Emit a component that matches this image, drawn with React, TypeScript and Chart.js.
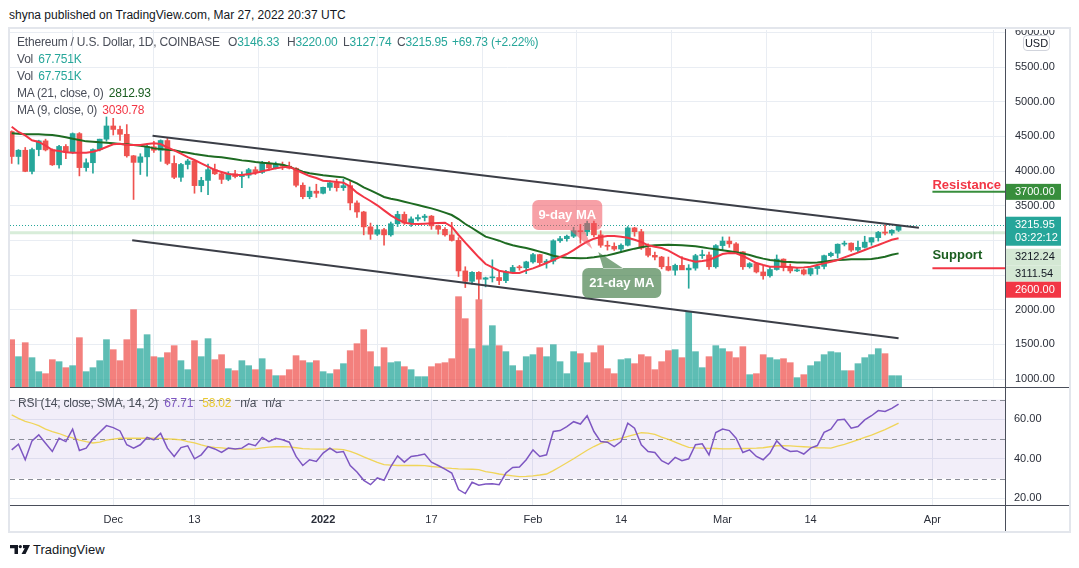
import React, { useEffect, useRef } from 'react';
import { Chart, registerables } from 'chart.js';

Chart.register(...registerables);

const FONT = '"Liberation Sans", Arial, Helvetica, sans-serif';

// ---- time axis (day index 0 = 16 Nov 2021) ----
const tickIdx = [15, 27, 46, 62, 77, 90, 105, 118, 136];
const tickLabels = ['Dec', '13', '2022', '17', 'Feb', '14', 'Mar', '14', 'Apr'];
const boldTickLabels = ['2022'];

// ---- OHLC (ETH/USD daily, Coinbase) ----
const open = [
  4570, 4210, 4300, 3995, 4310, 4435, 4305, 4090, 4355, 4275,
  4540, 4050, 4120, 4310, 4460, 4650, 4600, 4530, 4220, 4125,
  4205, 4350, 4300, 4440, 4110, 3910, 4095, 4145, 3790, 3865,
  4020, 3960, 3880, 3960, 3920, 3940, 4020, 3980, 4110, 4045,
  4095, 4070, 4040, 3795, 3630, 3710, 3680, 3765, 3830, 3760,
  3790, 3540, 3410, 3195, 3090, 3155, 3080, 3240, 3375, 3250,
  3310, 3330, 3350, 3210, 3160, 3080, 3000, 2560, 2410, 2540,
  2440, 2460, 2465, 2420, 2550, 2615, 2605, 2690, 2795, 2680,
  2700, 2995, 3025, 3060, 3140, 3125, 3245, 3080, 2930, 2915,
  2875, 2930, 3180, 3125, 2890, 2785, 2760, 2625, 2570, 2640,
  2575, 2600, 2780, 2790, 2620, 2925, 2990, 2950, 2835, 2620,
  2665, 2545, 2490, 2580, 2730, 2610, 2560, 2575, 2515, 2595,
  2625, 2780, 2815, 2945, 2960, 2860, 2900, 2975, 3040, 3120,
  3105, 3146.33,
];
const high = [
  4580, 4310, 4340, 4330, 4445, 4460, 4320, 4370, 4380, 4550,
  4555, 4175, 4320, 4460, 4780, 4760, 4650, 4670, 4225, 4250,
  4375, 4430, 4450, 4485, 4220, 4110, 4170, 4150, 3910, 4100,
  4100, 3990, 3990, 4010, 3990, 4040, 4060, 4140, 4140, 4130,
  4130, 4130, 4050, 3830, 3770, 3810, 3770, 3860, 3880, 3880,
  3850, 3570, 3420, 3250, 3220, 3175, 3265, 3420, 3410, 3340,
  3370, 3375, 3360, 3220, 3185, 3260, 3040, 2620, 2550, 2550,
  2470, 2720, 2550, 2570, 2640, 2640, 2700, 2815, 2800, 2725,
  3010, 3060, 3075, 3190, 3230, 3280, 3280, 3140, 2990, 2965,
  2950, 3200, 3190, 3160, 2950, 2830, 2770, 2760, 2660, 2765,
  2650, 2800, 2860, 2830, 2940, 3050, 3050, 2970, 2840, 2680,
  2675, 2630, 2620, 2790, 2735, 2660, 2600, 2590, 2600, 2655,
  2790, 2830, 2950, 2990, 2965, 2990, 3060, 3040, 3130, 3220,
  3155, 3220,
];
const low = [
  4110, 4100, 3990, 3960, 4220, 4290, 4080, 4040, 4180, 4250,
  3930, 4000, 3970, 4290, 4430, 4520, 4440, 4200, 3590, 3950,
  3925, 4270, 4140, 4090, 3890, 3850, 4030, 3680, 3700, 3660,
  3950, 3820, 3860, 3900, 3760, 3900, 3950, 3965, 4010, 4030,
  4020, 4030, 3770, 3600, 3600, 3620, 3670, 3720, 3710, 3720,
  3440, 3330, 3080, 3015, 3070, 2930, 3060, 3200, 3230, 3200,
  3280, 3280, 3160, 3090, 3060, 2990, 2480, 2320, 2370, 2150,
  2330, 2400, 2360, 2390, 2530, 2570, 2520, 2670, 2640, 2600,
  2660, 2970, 2990, 3040, 2960, 3070, 3050, 2900, 2860, 2855,
  2830, 2920, 3060, 2870, 2760, 2720, 2590, 2560, 2500, 2580,
  2310, 2570, 2740, 2580, 2600, 2860, 2900, 2810, 2580, 2600,
  2530, 2440, 2470, 2570, 2560, 2530, 2550, 2500, 2490, 2510,
  2590, 2760, 2745, 2920, 2840, 2825, 2890, 2930, 2990, 3080,
  3075, 3127.74,
];
const close = [
  4210, 4300, 3995, 4310, 4435, 4305, 4090, 4355, 4275, 4540,
  4050, 4120, 4310, 4460, 4650, 4600, 4530, 4220, 4125, 4205,
  4350, 4300, 4440, 4110, 3910, 4095, 4145, 3790, 3865, 4020,
  3960, 3880, 3960, 3920, 3940, 4020, 3980, 4110, 4045, 4095,
  4070, 4040, 3795, 3630, 3710, 3680, 3765, 3830, 3760, 3790,
  3540, 3410, 3195, 3090, 3155, 3080, 3240, 3375, 3250, 3310,
  3330, 3350, 3210, 3160, 3080, 3000, 2560, 2410, 2540, 2440,
  2460, 2465, 2420, 2550, 2610, 2605, 2690, 2795, 2680, 2700,
  2995, 3025, 3060, 3140, 3125, 3245, 3080, 2930, 2915, 2875,
  2930, 3180, 3125, 2890, 2785, 2760, 2620, 2570, 2640, 2575,
  2600, 2780, 2790, 2620, 2925, 2990, 2950, 2835, 2620, 2665,
  2545, 2490, 2580, 2730, 2610, 2560, 2575, 2515, 2595, 2625,
  2780, 2815, 2945, 2960, 2860, 2900, 2975, 3040, 3115, 3105,
  3146.33, 3215.95,
];
// volume, thousands of ETH
const volume = [
  284, 182, 266, 176, 92, 80, 164, 152, 116, 128,
  296, 92, 116, 158, 284, 224, 158, 284, 464, 230,
  314, 182, 176, 206, 248, 158, 104, 278, 182, 290,
  164, 194, 110, 98, 158, 128, 104, 170, 104, 68,
  68, 104, 188, 158, 146, 158, 92, 80, 104, 140,
  218, 260, 344, 212, 122, 236, 146, 152, 122, 104,
  62, 62, 122, 140, 146, 170, 542, 410, 230, 524,
  248, 368, 248, 212, 128, 98, 182, 194, 236, 182,
  254, 152, 80, 212, 200, 146, 206, 248, 110, 80,
  164, 170, 140, 194, 182, 104, 152, 218, 224, 176,
  448, 212, 116, 182, 248, 230, 212, 176, 242, 74,
  80, 194, 176, 164, 170, 146, 56, 74, 128, 152,
  194, 212, 206, 98, 98, 140, 176, 194, 230, 200,
  68, 67.751,
];
const ma9 = [
  4640, 4563, 4515, 4443, 4419, 4366, 4304, 4289, 4270, 4265,
  4265, 4265, 4279, 4308, 4347, 4385, 4395, 4376, 4376, 4376,
  4390, 4400, 4390, 4340, 4299, 4250, 4202, 4159, 4111, 4063,
  4015, 3986, 3957, 3948, 3943, 3957, 3972, 3996, 4020, 4039,
  4053, 4063, 4015, 3972, 3928, 3900, 3861, 3852, 3842, 3832,
  3775, 3688, 3626, 3568, 3506, 3433, 3361, 3304, 3256, 3241,
  3236, 3241, 3246, 3251, 3256, 3198, 3078, 2967, 2861, 2756,
  2659, 2611, 2563, 2544, 2530, 2530, 2568, 2597, 2635, 2674,
  2717, 2761, 2804, 2861, 2924, 2981, 3025, 3049, 3063, 3063,
  3054, 3039, 3010, 2977, 2929, 2909, 2890, 2852, 2799, 2746,
  2717, 2693, 2703, 2717, 2761, 2804, 2818, 2813, 2775, 2727,
  2674, 2645, 2621, 2621, 2621, 2616, 2607, 2611, 2621, 2645,
  2669, 2693, 2717, 2756, 2789, 2823, 2861, 2900, 2933, 2972,
  3010, 3030.78,
];
const ma21 = [
  4544, 4539, 4529, 4529, 4529, 4525, 4520, 4505, 4486, 4467,
  4448, 4428, 4424, 4414, 4409, 4400, 4390, 4385, 4376, 4366,
  4352, 4327, 4318, 4308, 4299, 4279, 4265, 4246, 4231, 4217,
  4207, 4198, 4183, 4169, 4154, 4145, 4130, 4121, 4111, 4102,
  4092, 4063, 4025, 3991, 3967, 3953, 3938, 3928, 3919, 3909,
  3866, 3823, 3765, 3722, 3674, 3626, 3601, 3582, 3558, 3534,
  3510, 3486, 3462, 3433, 3400, 3366, 3308, 3236, 3179, 3116,
  3054, 3025, 2996, 2958, 2929, 2909, 2890, 2866, 2838, 2812,
  2780, 2762, 2751, 2746, 2741, 2746, 2756, 2770, 2784, 2808,
  2832, 2857, 2881, 2900, 2919, 2929, 2933, 2938, 2933, 2929,
  2924, 2914, 2900, 2885, 2871, 2857, 2842, 2828, 2813, 2789,
  2761, 2737, 2717, 2708, 2693, 2688, 2683, 2683, 2679, 2683,
  2693, 2708, 2717, 2722, 2727, 2727, 2727, 2732, 2746, 2765,
  2794, 2812.93,
];
const rsi = [
  44.5, 47.4, 39.5, 49.1, 52.1, 47.9, 43.7, 50.4, 48.7, 55.0,
  44.2, 45.4, 50.1, 53.4, 56.8, 55.8, 54.1, 47.1, 45.4, 47.1,
  50.8, 49.6, 52.9, 45.4, 41.2, 45.7, 46.6, 40.0, 42.0, 46.2,
  45.0, 43.2, 45.4, 44.9, 45.4, 47.6, 46.6, 50.8, 48.7, 50.4,
  49.6, 48.4, 41.2, 36.6, 39.5, 38.7, 42.9, 45.4, 43.2, 43.7,
  36.6, 33.3, 29.1, 26.9, 30.3, 29.1, 36.1, 41.5, 38.3, 41.2,
  41.7, 42.4, 38.3, 36.6, 34.8, 32.8, 24.4, 22.4, 28.1, 26.6,
  27.2, 27.4, 26.9, 32.8, 35.6, 35.8, 39.5, 44.5, 41.2, 42.0,
  53.8, 54.3, 56.3, 58.8, 57.6, 61.8, 53.8, 48.7, 48.4, 46.2,
  48.7, 58.0, 55.5, 47.1, 43.7, 43.2, 39.0, 37.3, 40.7, 39.0,
  40.0, 47.1, 47.6, 42.0, 53.3, 55.1, 54.3, 50.4, 43.2, 44.5,
  41.2, 39.5, 42.9, 49.1, 45.4, 43.7, 44.0, 42.4, 45.4, 46.7,
  53.4, 55.0, 59.7, 60.0, 55.5, 56.3, 59.7, 61.8, 64.4, 64.0,
  65.5, 67.71,
];
const rsiSma = [
  62.2, 60.5, 59.0, 58.0, 56.8, 55.0, 53.8, 52.8, 51.5, 50.6,
  49.5, 48.7, 48.0, 48.4, 49.4, 50.0, 50.4, 50.4, 50.4, 50.4,
  50.4, 50.4, 50.3, 50.1, 49.9, 49.6, 48.7, 48.1, 47.0, 46.2,
  45.8, 45.5, 45.2, 45.0, 44.9, 44.9, 45.0, 45.5, 45.9, 46.1,
  46.2, 46.0, 45.6, 45.2, 45.0, 44.9, 44.9, 44.9, 44.9, 44.6,
  43.7, 42.5, 41.0, 39.6, 38.2, 37.0, 36.8, 36.6, 36.6, 36.6,
  36.6, 36.5, 36.1, 35.8, 35.4, 35.1, 34.9, 34.8, 34.7, 34.5,
  33.5, 33.0, 32.3, 31.8, 31.4, 31.0, 31.1, 31.4, 31.8, 32.3,
  34.0, 36.0, 38.0, 40.0, 42.2, 44.3, 46.2, 47.8, 48.8, 49.6,
  50.4, 51.3, 52.3, 53.2, 53.0, 52.4, 51.0, 49.8, 48.4, 47.0,
  45.8, 45.5, 45.4, 45.3, 45.2, 45.0, 45.0, 45.1, 45.2, 45.3,
  45.4, 45.6, 46.1, 46.6, 46.7, 46.5, 46.3, 46.1, 45.9, 45.6,
  45.5, 45.4, 46.4, 47.3, 48.4, 49.6, 50.8, 52.0, 53.4, 54.8,
  56.4, 58.02,
];

// drawn channel (day index, price)
const upperTrendX = [20.8, 134.0];
const upperTrendY = [4510, 3183];
const lowerTrendX = [17.8, 131.0];
const lowerTrendY = [3001, 1588];

const resistanceLevel = 3700;
const supportLevel = 2600;
const levelStartIdx = 136;
const lastPrice = 3215.95;
const countdown = '03:22:12';
const refPrice1 = 3212.24;
const refPrice2 = 3111.54;
const calloutIdx = 86.2;
const calloutPrice = 2848;

const priceTicks = [1000, 1500, 2000, 2500, 3000, 3500, 4000, 4500, 5000, 5500, 6000];
const rsiTicks = [20, 40, 60];
const rsiLevels = [70, 50, 30];

// view ranges
const X_MIN = -0.25;
const X_MAX = 146.72;
const P_MIN = 886;
const P_MAX = 6034;
const V_MAX = 2142;
const R_MIN = 16.6;
const R_MAX = 75.85;

const GRID = '#e9edf3';
const UP = '#26a69a';
const DOWN = '#ef5350';

function roundRectPath(ctx: CanvasRenderingContext2D, x: number, y: number, w: number, h: number, r: number) {
  ctx.moveTo(x + r, y);
  ctx.lineTo(x + w - r, y);
  ctx.arcTo(x + w, y, x + w, y + r, r);
  ctx.lineTo(x + w, y + h - r);
  ctx.arcTo(x + w, y + h, x + w - r, y + h, r);
  ctx.lineTo(x + r, y + h);
  ctx.arcTo(x, y + h, x, y + h - r, r);
  ctx.lineTo(x, y + r);
  ctx.arcTo(x, y, x + r, y, r);
  ctx.closePath();
}

const mainOverlay = {
  id: 'mainOverlay',
  beforeDatasetsDraw(chart: any) {
    const { ctx, chartArea: a, scales } = chart;
    const y = scales.y;
    ctx.save();
    const y2 = y.getPixelForValue(refPrice2);
    ctx.strokeStyle = 'rgba(76,175,80,0.22)';
    ctx.lineWidth = 3;
    ctx.beginPath();
    ctx.moveTo(a.left, y2);
    ctx.lineTo(a.right, y2);
    ctx.stroke();
    const y1 = y.getPixelForValue(lastPrice);
    ctx.strokeStyle = UP;
    ctx.lineWidth = 1;
    ctx.setLineDash([1, 2]);
    ctx.beginPath();
    ctx.moveTo(a.left, Math.round(y1) + 0.5);
    ctx.lineTo(a.right, Math.round(y1) + 0.5);
    ctx.stroke();
    ctx.restore();
  },
  afterDraw(chart: any) {
    const { ctx, chartArea: a, scales } = chart;
    const x = scales.x;
    const y = scales.y;
    ctx.save();
    // resistance / support
    const lx = x.getPixelForValue(levelStartIdx);
    const yr = y.getPixelForValue(resistanceLevel);
    const ys = y.getPixelForValue(supportLevel);
    ctx.lineWidth = 2;
    ctx.strokeStyle = '#388e3c';
    ctx.beginPath();
    ctx.moveTo(lx, yr);
    ctx.lineTo(a.right, yr);
    ctx.stroke();
    ctx.strokeStyle = '#f23645';
    ctx.beginPath();
    ctx.moveTo(lx, ys);
    ctx.lineTo(a.right, ys);
    ctx.stroke();
    ctx.font = `bold 13px ${FONT}`;
    ctx.textAlign = 'left';
    ctx.textBaseline = 'alphabetic';
    ctx.fillStyle = '#f23645';
    ctx.fillText('Resistance', lx, yr - 3);
    ctx.fillStyle = '#1b5e20';
    ctx.fillText('Support', lx, ys - 9);

    // callouts
    const ax = x.getPixelForValue(calloutIdx);
    const ay = y.getPixelForValue(calloutPrice);
    ctx.fillStyle = 'rgba(240,82,92,0.55)';
    ctx.beginPath();
    roundRectPath(ctx, ax - 63, ay - 51, 70, 30, 6);
    ctx.moveTo(ax - 26, ay - 21.5);
    ctx.lineTo(ax - 11, ay - 21.5);
    ctx.lineTo(ax - 3, ay - 2);
    ctx.closePath();
    ctx.fill('nonzero');
    ctx.fillStyle = 'rgba(62,122,66,0.65)';
    ctx.beginPath();
    roundRectPath(ctx, ax - 13, ay + 17, 79, 30, 6);
    ctx.moveTo(ax + 8, ay + 17.5);
    ctx.lineTo(ax + 28, ay + 17.5);
    ctx.lineTo(ax + 3, ay + 1);
    ctx.closePath();
    ctx.fill('nonzero');
    ctx.fillStyle = '#ffffff';
    ctx.font = `bold 13px ${FONT}`;
    ctx.textAlign = 'center';
    ctx.textBaseline = 'middle';
    ctx.fillText('9-day MA', ax - 28, ay - 36);
    ctx.fillText('21-day MA', ax + 26.5, ay + 32);

    // price scale labels
    const bx = a.right;
    const bw = 56;
    ctx.textAlign = 'left';
    ctx.textBaseline = 'middle';
    ctx.font = `11px ${FONT}`;
    const box = (top: number, h: number, bg: string) => {
      ctx.fillStyle = bg;
      ctx.fillRect(bx, top, bw, h);
    };
    const txt = (s: string, cy: number, col: string) => {
      ctx.fillStyle = col;
      ctx.fillText(s, bx + 10, cy);
    };
    box(yr - 8, 16, '#388e3c');
    txt(resistanceLevel.toFixed(2), yr, '#ffffff');
    const yl = y.getPixelForValue(lastPrice);
    box(yl - 8.7, 29, UP);
    txt(lastPrice.toFixed(2), yl, '#ffffff');
    txt(countdown, yl + 13, '#ffffff');
    let t = yl + 23.3;
    box(t, 17, '#d4e8d4');
    txt(refPrice1.toFixed(2), t + 8.5, '#131722');
    t += 17;
    box(t, 16, '#d4e8d4');
    txt(refPrice2.toFixed(2), t + 8, '#131722');
    t += 16;
    box(t, 16, '#f23645');
    txt(supportLevel.toFixed(2), t + 8, '#ffffff');
    ctx.restore();
  },
};

const rsiOverlay = {
  id: 'rsiOverlay',
  beforeDatasetsDraw(chart: any) {
    const { ctx, chartArea: a, scales } = chart;
    const y = scales.y;
    ctx.save();
    const top = y.getPixelForValue(rsiLevels[0]);
    const bot = y.getPixelForValue(rsiLevels[2]);
    ctx.fillStyle = 'rgba(126,87,194,0.1)';
    ctx.fillRect(a.left, top, a.right - a.left, bot - top);
    ctx.strokeStyle = '#8a8d97';
    ctx.lineWidth = 1;
    ctx.setLineDash([5, 4]);
    rsiLevels.forEach((v) => {
      const py = Math.round(y.getPixelForValue(v)) + 0.5;
      ctx.beginPath();
      ctx.moveTo(a.left, py);
      ctx.lineTo(a.right, py);
      ctx.stroke();
    });
    ctx.restore();
  },
};

function xScale(showLabels: boolean) {
  return {
    type: 'linear' as const,
    min: X_MIN,
    max: X_MAX,
    offset: false,
    afterBuildTicks: (s: any) => {
      s.ticks = tickIdx.map((v) => ({ value: v }));
    },
    afterFit: (s: any) => {
      s.height = showLabels ? 25 : 0;
      s.paddingLeft = 0;
      s.paddingRight = 0;
      s.paddingTop = 0;
      s.paddingBottom = 0;
    },
    ticks: {
      display: showLabels,
      autoSkip: false,
      maxRotation: 0,
      padding: 8,
      color: '#2a2e39',
      callback: (v: any) => tickLabels[tickIdx.indexOf(Number(v))],
      font: (c: any) => ({
        family: FONT,
        size: 11,
        weight: c.tick && boldTickLabels.includes(tickLabels[tickIdx.indexOf(c.tick.value)]) ? 'bold' : 'normal',
      }),
    },
    grid: { color: GRID, drawTicks: false },
    border: { display: false },
  };
}

function yFit(s: any) {
  s.width = 65;
  s.paddingTop = 0;
  s.paddingBottom = 0;
  s.paddingLeft = 0;
  s.paddingRight = 0;
}

function buildMain(canvas: HTMLCanvasElement) {
  const idx = close.map((_, i) => i);
  const isUp = idx.map((i) => close[i] >= open[i]);
  const candleColors = isUp.map((u) => (u ? UP : DOWN));
  const volColors = isUp.map((u) => (u ? 'rgba(38,166,154,0.74)' : 'rgba(239,83,80,0.74)'));
  return new Chart(canvas, {
    type: 'bar',
    data: {
      datasets: [
        {
          type: 'line',
          data: ma9.map((v, i) => ({ x: i, y: v })),
          borderColor: '#f23645',
          borderWidth: 2,
          pointRadius: 0,
          tension: 0,
          order: 0,
        } as any,
        {
          type: 'line',
          data: ma21.map((v, i) => ({ x: i, y: v })),
          borderColor: '#1e6b22',
          borderWidth: 2,
          pointRadius: 0,
          tension: 0,
          order: 0,
        } as any,
        {
          type: 'line',
          data: upperTrendX.map((v, i) => ({ x: v, y: upperTrendY[i] })),
          borderColor: '#3b3e47',
          borderWidth: 2,
          pointRadius: 0,
          order: 0,
        } as any,
        {
          type: 'line',
          data: lowerTrendX.map((v, i) => ({ x: v, y: lowerTrendY[i] })),
          borderColor: '#3b3e47',
          borderWidth: 2,
          pointRadius: 0,
          order: 0,
        } as any,
        {
          type: 'bar',
          data: idx.map((i) => ({ x: i, y: [open[i], close[i]] })),
          backgroundColor: candleColors,
          barThickness: 5,
          grouped: false,
          minBarLength: 1,
          order: 1,
        } as any,
        {
          type: 'bar',
          data: idx.map((i) => ({ x: i, y: [low[i], high[i]] })),
          backgroundColor: candleColors,
          barThickness: 1,
          grouped: false,
          order: 2,
        } as any,
        {
          type: 'bar',
          yAxisID: 'yv',
          data: idx.map((i) => ({ x: i, y: volume[i] })),
          backgroundColor: volColors,
          barThickness: 6,
          grouped: false,
          order: 3,
        } as any,
      ],
    },
    options: {
      responsive: false,
      animation: false,
      events: [],
      layout: { padding: 0, autoPadding: false } as any,
      plugins: { legend: { display: false }, tooltip: { enabled: false } },
      scales: {
        x: xScale(false) as any,
        y: {
          type: 'linear',
          position: 'right',
          min: P_MIN,
          max: P_MAX,
          afterBuildTicks: (s: any) => {
            s.ticks = priceTicks.map((v) => ({ value: v }));
          },
          afterFit: yFit,
          ticks: {
            padding: 10,
            color: '#2a2e39',
            font: { family: FONT, size: 11 },
            callback: (v: any) => Number(v).toFixed(2),
          },
          grid: { color: GRID, drawTicks: false },
          border: { display: false },
        },
        yv: { type: 'linear', display: false, min: 0, max: V_MAX },
      },
    },
    plugins: [mainOverlay],
  });
}

function buildRsi(canvas: HTMLCanvasElement) {
  return new Chart(canvas, {
    type: 'line',
    data: {
      datasets: [
        {
          data: rsi.map((v, i) => ({ x: i, y: v })),
          borderColor: '#7e57c2',
          borderWidth: 1.5,
          pointRadius: 0,
          tension: 0,
        },
        {
          data: rsiSma.map((v, i) => ({ x: i, y: v })),
          borderColor: 'rgba(240,208,60,0.85)',
          borderWidth: 1.3,
          pointRadius: 0,
          tension: 0,
        },
      ],
    },
    options: {
      responsive: false,
      animation: false,
      events: [],
      layout: { padding: 0, autoPadding: false } as any,
      plugins: { legend: { display: false }, tooltip: { enabled: false } },
      scales: {
        x: xScale(true) as any,
        y: {
          type: 'linear',
          position: 'right',
          min: R_MIN,
          max: R_MAX,
          afterBuildTicks: (s: any) => {
            s.ticks = rsiTicks.map((v) => ({ value: v }));
          },
          afterFit: yFit,
          ticks: {
            padding: 9,
            color: '#2a2e39',
            font: { family: FONT, size: 11 },
            callback: (v: any) => Number(v).toFixed(2),
          },
          grid: { color: GRID, drawTicks: false },
          border: { display: false },
        },
      },
    },
    plugins: [rsiOverlay],
  });
}

const baseText: React.CSSProperties = {
  position: 'absolute',
  whiteSpace: 'nowrap',
  fontFamily: FONT,
  fontSize: 12,
  lineHeight: '16px',
  letterSpacing: '-0.2px',
  color: '#4a4e59',
};

function T(props: { x: number; cy: number; color?: string; size?: number; spacing?: string; children: React.ReactNode }) {
  const size = props.size || 12;
  return (
    <div
      style={{
        ...baseText,
        left: props.x,
        top: props.cy - 8,
        color: props.color || baseText.color,
        fontSize: size,
        letterSpacing: props.spacing || baseText.letterSpacing,
      }}
    >
      {props.children}
    </div>
  );
}

export default function App() {
  const mainRef = useRef<HTMLCanvasElement>(null);
  const rsiRef = useRef<HTMLCanvasElement>(null);

  useEffect(() => {
    const c1 = buildMain(mainRef.current as HTMLCanvasElement);
    const c2 = buildRsi(rsiRef.current as HTMLCanvasElement);
    return () => {
      c1.destroy();
      c2.destroy();
    };
  }, []);

  const teal = '#26a69a';
  return (
    <div
      style={{
        position: 'fixed',
        left: 0,
        top: 0,
        width: 1079,
        height: 568,
        background: '#ffffff',
        overflow: 'hidden',
        fontFamily: FONT,
      }}
    >
      <T x={9} cy={15} color="#131722" spacing="0px">shyna published on TradingView.com, Mar 27, 2022 20:37 UTC</T>

      <div
        style={{
          position: 'absolute',
          left: 8,
          top: 27,
          width: 1063,
          height: 506,
          border: '2px solid #e3e6ec',
          boxSizing: 'border-box',
        }}
      />

      <canvas ref={mainRef} width={1060} height={357} style={{ position: 'absolute', left: 10, top: 30 }} />
      <canvas ref={rsiRef} width={1060} height={142} style={{ position: 'absolute', left: 10, top: 388 }} />

      {/* pane separators and price-scale border */}
      <div style={{ position: 'absolute', left: 10, top: 387, width: 1059, height: 1, background: '#4a4e5a' }} />
      <div style={{ position: 'absolute', left: 10, top: 505, width: 1059, height: 1, background: '#4a4e5a' }} />
      <div style={{ position: 'absolute', left: 1005, top: 29, width: 1, height: 502, background: '#4a4e5a' }} />

      {/* USD badge */}
      <div
        style={{
          position: 'absolute',
          left: 1023,
          top: 35,
          width: 27,
          height: 16,
          border: '1px solid #d1d4dc',
          borderRadius: 4,
          background: '#ffffff',
          boxSizing: 'border-box',
          fontFamily: FONT,
          fontSize: 11,
          lineHeight: '14px',
          textAlign: 'center',
          color: '#131722',
        }}
      >
        USD
      </div>

      {/* legend */}
      <T x={17} cy={42}>Ethereum / U.S. Dollar, 1D, COINBASE</T>
      <T x={228} cy={42}>O<span style={{ color: teal }}>3146.33</span></T>
      <T x={287} cy={42}>H<span style={{ color: teal }}>3220.00</span></T>
      <T x={343} cy={42}>L<span style={{ color: teal }}>3127.74</span></T>
      <T x={397} cy={42}>C<span style={{ color: teal }}>3215.95</span></T>
      <T x={452} cy={42} color={teal}>+69.73 (+2.22%)</T>
      <T x={17} cy={59}>Vol <span style={{ color: teal, marginLeft: 2 }}>67.751K</span></T>
      <T x={17} cy={76}>Vol <span style={{ color: teal, marginLeft: 2 }}>67.751K</span></T>
      <T x={17} cy={93}>MA (21, close, 0) <span style={{ color: '#1b5e20', marginLeft: 2 }}>2812.93</span></T>
      <T x={17} cy={110}>MA (9, close, 0) <span style={{ color: '#f23645', marginLeft: 2 }}>3030.78</span></T>

      <T x={18} cy={403}>
        RSI (14, close, SMA, 14, 2) <span style={{ color: '#7e57c2', marginLeft: 3 }}>67.71</span>
        <span style={{ color: '#e8c930', marginLeft: 9 }}>58.02</span>
        <span style={{ marginLeft: 9 }}>n/a</span>
        <span style={{ marginLeft: 9 }}>n/a</span>
      </T>

      {/* footer */}
      <svg width={20} height={9} viewBox="0 0 20 9" style={{ position: 'absolute', left: 10, top: 545 }}>
        <path d="M0 0 H8 V9 H4.5 V3.2 H0 Z" fill="#131722" />
        <circle cx={10.3} cy={1.6} r={1.6} fill="#131722" />
        <path d="M13 0 H20 L15.5 9 H11.5 L14.8 3.2 H13 Z" fill="#131722" />
      </svg>
      <T x={33} cy={550} color="#131722" size={13} spacing="0px">TradingView</T>
    </div>
  );
}
